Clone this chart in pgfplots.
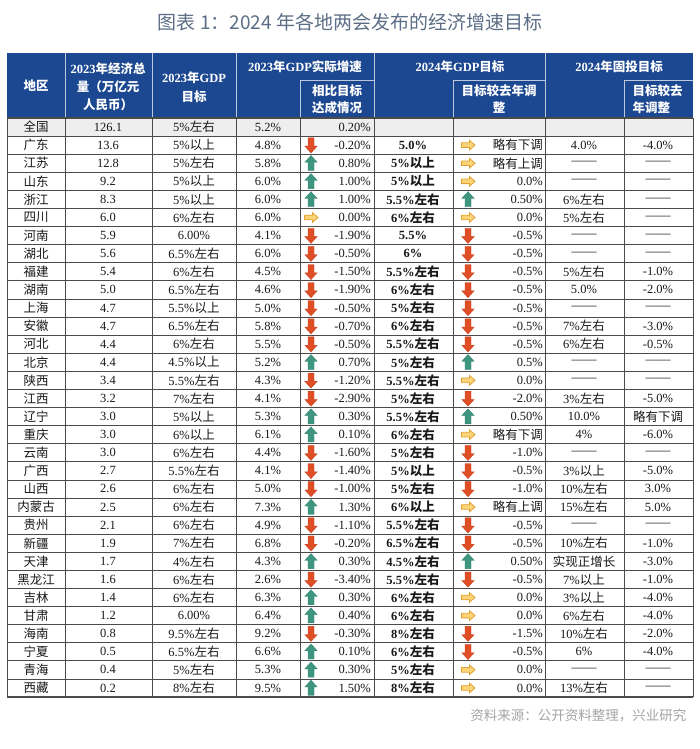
\documentclass[border=0pt]{standalone}
\usepackage{fontspec}
\usepackage{pgfplots}
\usepackage{pgfplotstable}
\pgfplotsset{compat=1.18}
\setmainfont{Liberation Serif}
\newfontfamily\cjkfont{Noto Sans CJK SC}
\newcommand\latinfont{\rmfamily}
\XeTeXinterchartokenstate=1
\newXeTeXintercharclass\CJKclass
\count255="4E00
\loop\XeTeXcharclass\count255=\CJKclass\ifnum\count255<"9FFF\advance\count255 by 1\repeat
\count255="3000
\loop\XeTeXcharclass\count255=\CJKclass\ifnum\count255<"303F\advance\count255 by 1\repeat
\count255="FF00
\loop\XeTeXcharclass\count255=\CJKclass\ifnum\count255<"FFEF\advance\count255 by 1\repeat
\XeTeXinterchartoks 0 \CJKclass = {\cjkfont}
\XeTeXinterchartoks 4095 \CJKclass = {\cjkfont}
\XeTeXinterchartoks \CJKclass 0 = {\latinfont}

\definecolor{hdr}{RGB}{28,72,145}
\definecolor{ttl}{RGB}{92,110,134}
\definecolor{src}{RGB}{165,165,165}
\definecolor{grayrow}{RGB}{238,238,238}
\definecolor{gridc}{RGB}{75,75,75}
\definecolor{hline}{RGB}{190,200,220}
\definecolor{txt}{RGB}{25,25,25}
\definecolor{upc}{RGB}{62,150,128}
\definecolor{dnc}{RGB}{224,78,38}
\definecolor{rtc}{RGB}{252,212,120}
\definecolor{rtd}{RGB}{226,160,50}

\pgfdeclareplotmark{uarr}{%
 \pgfpathmoveto{\pgfqpoint{0pt}{7.8pt}}%
 \pgfpathlineto{\pgfqpoint{6.2pt}{1pt}}%
 \pgfpathlineto{\pgfqpoint{3pt}{1pt}}%
 \pgfpathlineto{\pgfqpoint{3pt}{-7.3pt}}%
 \pgfpathlineto{\pgfqpoint{-3pt}{-7.3pt}}%
 \pgfpathlineto{\pgfqpoint{-3pt}{1pt}}%
 \pgfpathlineto{\pgfqpoint{-6.2pt}{1pt}}%
 \pgfpathclose\pgfusepathqfillstroke}
\pgfdeclareplotmark{darr}{%
 \pgfpathmoveto{\pgfqpoint{0pt}{-7.8pt}}%
 \pgfpathlineto{\pgfqpoint{6.2pt}{-1pt}}%
 \pgfpathlineto{\pgfqpoint{3pt}{-1pt}}%
 \pgfpathlineto{\pgfqpoint{3pt}{7.3pt}}%
 \pgfpathlineto{\pgfqpoint{-3pt}{7.3pt}}%
 \pgfpathlineto{\pgfqpoint{-3pt}{-1pt}}%
 \pgfpathlineto{\pgfqpoint{-6.2pt}{-1pt}}%
 \pgfpathclose\pgfusepathqfillstroke}
\pgfdeclareplotmark{rarr}{%
 \pgfpathmoveto{\pgfqpoint{7pt}{0pt}}%
 \pgfpathlineto{\pgfqpoint{1.5pt}{4.8pt}}%
 \pgfpathlineto{\pgfqpoint{1.5pt}{2.3pt}}%
 \pgfpathlineto{\pgfqpoint{-6.5pt}{2.3pt}}%
 \pgfpathlineto{\pgfqpoint{-6.5pt}{-2.3pt}}%
 \pgfpathlineto{\pgfqpoint{1.5pt}{-2.3pt}}%
 \pgfpathlineto{\pgfqpoint{1.5pt}{-4.8pt}}%
 \pgfpathclose\pgfusepathqfillstroke}
\pgfdeclareplotmark{nomark}{}

\pgfplotstableread{
n tot t23 a23 ar1 d23 t24 ar2 adj inv iadj
全国 126.1 5\%左右 5.2\% n 0.20\% {} n {} {} {}
广东 13.6 5\%以上 4.8\% d -0.20\% 5.0\% r 略有下调 4.0\% -4.0\%
江苏 12.8 5\%左右 5.8\% u 0.80\% 5\%以上 r 略有上调 —— ——
山东 9.2 5\%以上 6.0\% u 1.00\% 5\%以上 r 0.0\% —— ——
浙江 8.3 5\%以上 6.0\% u 1.00\% 5.5\%左右 u 0.50\% 6\%左右 ——
四川 6.0 6\%左右 6.0\% r 0.00\% 6\%左右 r 0.0\% 5\%左右 ——
河南 5.9 6.00\% 4.1\% d -1.90\% 5.5\% d -0.5\% —— ——
湖北 5.6 6.5\%左右 6.0\% d -0.50\% 6\% d -0.5\% —— ——
福建 5.4 6\%左右 4.5\% d -1.50\% 5.5\%左右 d -0.5\% 5\%左右 -1.0\%
湖南 5.0 6.5\%左右 4.6\% d -1.90\% 6\%左右 d -0.5\% 5.0\% -2.0\%
上海 4.7 5.5\%以上 5.0\% d -0.50\% 5\%左右 d -0.5\% —— ——
安徽 4.7 6.5\%左右 5.8\% d -0.70\% 6\%左右 d -0.5\% 7\%左右 -3.0\%
河北 4.4 6\%左右 5.5\% d -0.50\% 5.5\%左右 d -0.5\% 6\%左右 -0.5\%
北京 4.4 4.5\%以上 5.2\% u 0.70\% 5\%左右 u 0.5\% —— ——
陕西 3.4 5.5\%左右 4.3\% d -1.20\% 5.5\%左右 r 0.0\% —— ——
江西 3.2 7\%左右 4.1\% d -2.90\% 5\%左右 d -2.0\% 3\%左右 -5.0\%
辽宁 3.0 5\%以上 5.3\% u 0.30\% 5.5\%左右 u 0.50\% 10.0\% 略有下调
重庆 3.0 6\%以上 6.1\% u 0.10\% 6\%左右 r 略有下调 4\% -6.0\%
云南 3.0 6\%左右 4.4\% d -1.60\% 5\%左右 d -1.0\% —— ——
广西 2.7 5.5\%左右 4.1\% d -1.40\% 5\%以上 d -0.5\% 3\%以上 -5.0\%
山西 2.6 6\%左右 5.0\% d -1.00\% 5\%左右 d -1.0\% 10\%左右 3.0\%
内蒙古 2.5 6\%左右 7.3\% u 1.30\% 6\%以上 r 略有上调 15\%左右 5.0\%
贵州 2.1 6\%左右 4.9\% d -1.10\% 5.5\%左右 d -0.5\% —— ——
新疆 1.9 7\%左右 6.8\% d -0.20\% 6.5\%左右 d -0.5\% 10\%左右 -1.0\%
天津 1.7 4\%左右 4.3\% u 0.30\% 4.5\%左右 u 0.50\% 实现正增长 -3.0\%
黑龙江 1.6 6\%左右 2.6\% d -3.40\% 5.5\%左右 d -0.5\% 7\%以上 -1.0\%
吉林 1.4 6\%左右 6.3\% u 0.30\% 6\%左右 r 0.0\% 3\%以上 -4.0\%
甘肃 1.2 6.00\% 6.4\% u 0.40\% 6\%左右 r 0.0\% 6\%左右 -4.0\%
海南 0.8 9.5\%左右 9.2\% d -0.30\% 8\%左右 d -1.5\% 10\%左右 -2.0\%
宁夏 0.5 6.5\%左右 6.6\% u 0.10\% 6\%左右 d -0.5\% 6\% -4.0\%
青海 0.4 5\%左右 5.3\% u 0.30\% 5\%左右 r 0.0\% —— ——
西藏 0.2 8\%左右 9.5\% u 1.50\% 8\%左右 r 0.0\% 13\%左右 ——
}\tbl

\pgfplotsset{
 txtcol/.style={draw=none, mark=none, nodes near coords, point meta=explicit symbolic,
   every node near coord/.append style={anchor=center, inner sep=0pt, text=txt,
   font=\fontsize{12.5}{12.5}\selectfont}},
 arrcol/.style={scatter, only marks, point meta=explicit symbolic,
   scatter/classes={u={mark=uarr,fill=upc,draw=upc!85!black,line width=0.3pt},
     d={mark=darr,fill=dnc,draw=dnc!85!black,line width=0.3pt},
     r={mark=rarr,fill=rtc,draw=rtd,line width=0.8pt},
     n={mark=nomark}}},
}
\newcommand\rowy{118+18.094*(\coordindex+0.5)}

\begin{document}
\begin{tikzpicture}
\begin{axis}[x=1pt, y=1pt, y dir=reverse, xmin=0, xmax=700, ymin=0, ymax=749,
  hide axis, clip=false, scale only axis]
\fill[white] (0,0) rectangle (700,749);
% title
\node[text=ttl, font=\fontsize{19}{19}\selectfont\renewcommand\latinfont{\cjkfont}\cjkfont] at (350,22) {图表 1：2024 年各地两会发布的经济增速目标};
% header
\fill[hdr] (7,53) rectangle (693,118);
\fill[grayrow] (7,118) rectangle (693,136.094);
\pgfplotsinvokeforeach{65,152,236,374,545}{\draw[hline, line width=0.8pt] (#1,53) -- (#1,118);}
\pgfplotsinvokeforeach{300,453,624}{\draw[hline, line width=0.8pt] (#1,80) -- (#1,118);}
\draw[hline, line width=0.8pt] (300,80) -- (374,80);
\draw[hline, line width=0.8pt] (453,80) -- (545,80);
\draw[hline, line width=0.8pt] (624,80) -- (693,80);
\begin{scope}[text=white, font=\bfseries\fontsize{12.5}{12.5}\selectfont]
 \node at (36,86) {地区};
 \node at (108,69) {2023年经济总};
 \node at (108,87) {量（万亿元};
 \node at (108,105) {人民币）};
 \node at (194,78) {2023年GDP};
 \node at (194,97) {目标};
 \node at (305,67) {2023年GDP实际增速};
 \node at (460,67) {2024年GDP目标};
 \node at (619,67) {2024年固投目标};
 \node at (337,91) {相比目标};
 \node at (337,108) {达成情况};
 \node at (499,91) {目标较去年调};
 \node at (499,108) {整};
 \node[anchor=west] at (629,91) {目标较去};
 \node[anchor=west] at (629,108) {年调整};
\end{scope}
% body text
\addplot[txtcol] table[x expr=36, y expr=\rowy, meta=n] {\tbl};
\addplot[txtcol] table[x expr=108, y expr=\rowy, meta=tot] {\tbl};
\addplot[txtcol] table[x expr=194, y expr=\rowy, meta=t23] {\tbl};
\addplot[txtcol] table[x expr=268, y expr=\rowy, meta=a23] {\tbl};
\addplot[txtcol, every node near coord/.append style={anchor=east}] table[x expr=371, y expr=\rowy, meta=d23] {\tbl};
\addplot[txtcol, every node near coord/.append style={font=\bfseries\fontsize{12.5}{12.5}\selectfont}] table[x expr=413, y expr=\rowy, meta=t24] {\tbl};
\addplot[txtcol, every node near coord/.append style={anchor=east}] table[x expr=543, y expr=\rowy, meta=adj] {\tbl};
\addplot[txtcol] table[x expr=584, y expr=\rowy, meta=inv] {\tbl};
\addplot[txtcol] table[x expr=658, y expr=\rowy, meta=iadj] {\tbl};
% arrows
\addplot[arrcol] table[x expr=311, y expr=\rowy, meta=ar1] {\tbl};
\addplot[arrcol] table[x expr=468, y expr=\rowy, meta=ar2] {\tbl};
% grid
\pgfplotsinvokeforeach{1,...,31}{\draw[gridc, line width=0.7pt] (7,{118+18.094*#1}) -- (693,{118+18.094*#1});}
\pgfplotsinvokeforeach{7,65,152,236,300,374,453,545,624,693}{\draw[gridc, line width=0.7pt] (#1,118) -- (#1,697);}
\draw[gridc, line width=1.3pt] (7,118) -- (693,118);
\draw[gridc, line width=1.3pt] (7,697) -- (693,697);
\draw[gridc, line width=1.3pt] (7,{118+18.094*15}) -- (693,{118+18.094*15});
\draw[gridc, line width=1.3pt] (7,{118+18.094*28}) -- (693,{118+18.094*28});
% source
\node[anchor=east, text=src, font=\fontsize{13.5}{13.5}\selectfont\renewcommand\latinfont{\cjkfont}\cjkfont] at (690,715) {资料来源：公开资料整理，兴业研究};
\end{axis}
\end{tikzpicture}
\end{document}
